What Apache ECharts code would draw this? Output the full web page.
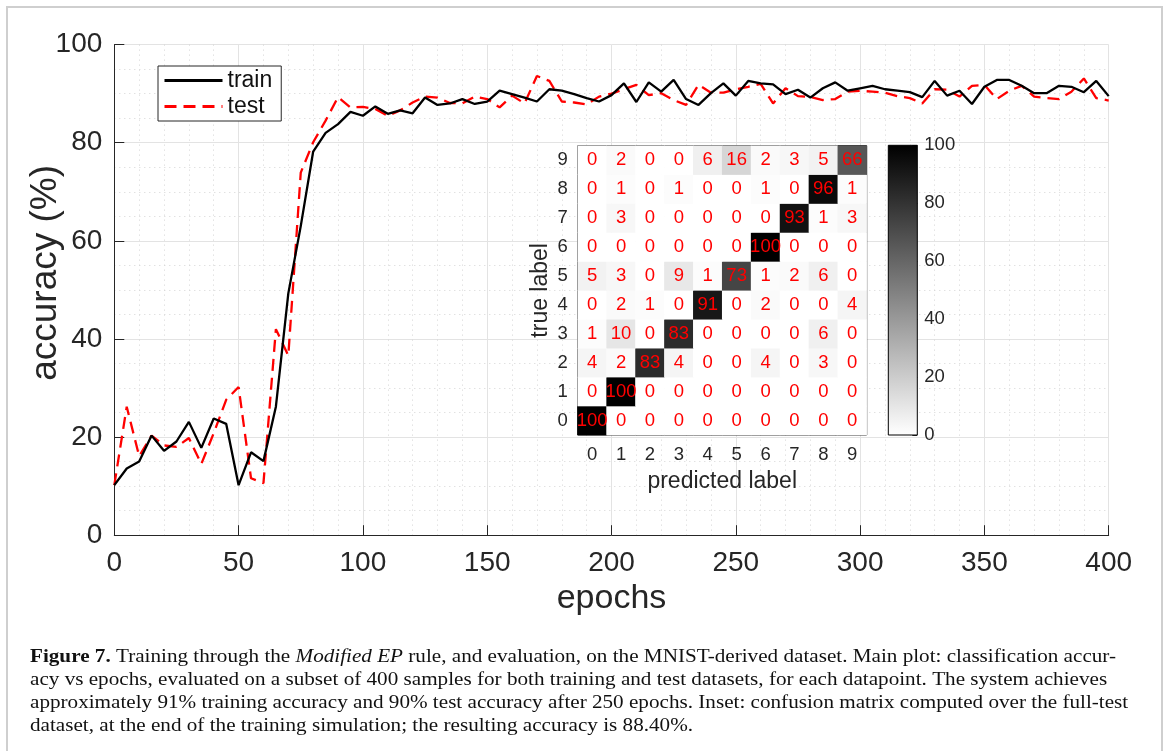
<!DOCTYPE html>
<html>
<head>
<meta charset="utf-8">
<script src="https://cdn.jsdelivr.net/npm/echarts@6/dist/echarts.min.js"></script>
<style>
  html, body { margin: 0; padding: 0; background: #ffffff; }
  #chart { position: absolute; left: 0; top: 0; width: 1170px; height: 751px; }
  #frame { position: absolute; left: 6px; top: 6px; width: 1153px; height: 760px;
           border: 2px solid #cfcfcf; border-bottom: none; pointer-events: none; }
</style>
</head>
<body>
<div id="chart"></div>
<div id="frame"></div>
<script>
// ---------------- data ----------------
const epochs = [0,5,10,15,20,25,30,35,40,45,50,55,60,65,70,75,80,85,90,95,
  100,105,110,115,120,125,130,135,140,145,150,155,160,165,170,175,180,185,190,195,
  200,205,210,215,220,225,230,235,240,245,250,255,260,265,270,275,280,285,290,295,
  300,305,310,315,320,325,330,335,340,345,350,355,360,365,370,375,380,385,390,395,400];

const trainAcc = [10.2,13.6,15.0,20.3,17.2,19.1,23.1,17.8,23.8,22.7,10.2,16.9,15.1,26.2,49.3,63.0,78.2,82.0,83.8,86.3,
  85.5,87.4,85.9,86.6,86.0,89.2,87.7,88.0,88.9,87.9,88.4,90.6,89.9,89.2,88.4,90.9,90.6,89.9,89.1,88.4,
  89.7,92.1,88.3,92.3,90.4,92.8,88.9,87.7,90.1,92.1,89.6,92.6,92.1,91.9,89.9,90.8,89.2,91.1,92.3,90.6,
  91.1,91.6,90.9,90.6,90.3,89.3,92.6,89.6,90.6,87.9,91.4,92.8,92.8,91.6,90.1,90.1,91.6,91.4,90.3,92.6,89.5];

const testAcc = [10.2,26.2,16.1,20.3,18.3,18.0,19.8,14.5,20.8,27.6,30.2,11.6,10.6,42.0,36.6,73.9,80.1,84.5,89.3,87.2,
  87.3,86.9,85.5,86.6,88.2,89.4,89.2,88.1,88.0,89.4,88.9,87.2,89.6,88.0,93.6,92.6,88.4,88.2,87.8,89.4,
  90.0,90.9,91.8,89.7,90.1,88.7,87.7,91.8,90.2,90.2,90.9,91.4,92.0,88.0,91.1,89.5,89.3,88.7,88.9,90.4,
  90.6,90.4,90.2,89.5,89.1,88.0,90.9,90.8,89.4,91.6,91.8,88.9,90.6,91.6,89.4,89.1,88.9,90.4,93.1,89.1,88.6];

// confusion matrix: index = true label, entries = predicted label 0..9
const digitLabels = ['0','1','2','3','4','5','6','7','8','9'];
const confusionRows = [
  [100,0,0,0,0,0,0,0,0,0],
  [0,100,0,0,0,0,0,0,0,0],
  [4,2,83,4,0,0,4,0,3,0],
  [1,10,0,83,0,0,0,0,6,0],
  [0,2,1,0,91,0,2,0,0,4],
  [5,3,0,9,1,73,1,2,6,0],
  [0,0,0,0,0,0,100,0,0,0],
  [0,3,0,0,0,0,0,93,1,3],
  [0,1,0,1,0,0,1,0,96,1],
  [0,2,0,0,6,16,2,3,5,66]
];
const colorbarRange = [0, 100];

const seriesNames = ['train', 'test'];
const xLabel = 'epochs';
const yLabel = 'accuracy (%)';
const cmXLabel = 'predicted label';
const cmYLabel = 'true label';

// ---------------- build ----------------
const trainData = epochs.map((e, i) => [e, trainAcc[i]]);
const testData = epochs.map((e, i) => [e, testAcc[i]]);
const heatData = [];
confusionRows.forEach((row, t) => row.forEach((v, p) => heatData.push([p, t, v])));

const FONT = 'Liberation Sans';
const TXT = '#262626';

const chart = echarts.init(document.getElementById('chart'), null, {renderer: 'canvas', width: 1170, height: 751});

const option = {
  animation: false,
  backgroundColor: 'transparent',
  textStyle: { fontFamily: FONT },
  grid: [
    { left: 114.3, top: 44.6, width: 994.4, height: 490.6, containLabel: false },
    { left: 577.7, top: 145.7, width: 289, height: 289.3, show: true, borderColor: '#000', borderWidth: 1, backgroundColor: 'transparent', z: 3 },
    { left: 888.3, top: 145.3, width: 29, height: 289.7, show: true, borderColor: '#000', borderWidth: 1, backgroundColor: 'transparent', z: 3 }
  ],
  xAxis: [
    {
      gridIndex: 0, type: 'value', min: 0, max: 400, interval: 50,
      name: xLabel, nameLocation: 'middle', nameGap: 44,
      nameTextStyle: { fontSize: 34, color: TXT, fontFamily: FONT },
      axisLine: { show: true, lineStyle: { color: TXT, width: 1 } },
      axisTick: { show: true, inside: true, length: 10, lineStyle: { color: TXT } },
      axisLabel: { fontSize: 28, color: TXT, margin: 14, fontFamily: FONT },
      splitLine: { show: true, lineStyle: { color: '#e3e3e3', width: 1 } },
      minorTick: { show: false, splitNumber: 5 },
      minorSplitLine: { show: true, lineStyle: { color: '#d4d4d4', width: 1, type: [1, 4] } }
    },
    {
      gridIndex: 1, type: 'category', data: digitLabels,
      name: cmXLabel, nameLocation: 'middle', nameGap: 35,
      nameTextStyle: { fontSize: 23, color: TXT, fontFamily: FONT },
      axisLine: { show: false },
      axisTick: { show: false },
      axisLabel: { fontSize: 18.5, color: TXT, margin: 10, fontFamily: FONT },
      splitLine: { show: false }
    },
    {
      gridIndex: 2, type: 'category', data: ['cb'], show: false
    }
  ],
  yAxis: [
    {
      gridIndex: 0, type: 'value', min: 0, max: 100, interval: 20,
      name: yLabel, nameLocation: 'middle', nameGap: 50, nameRotate: 90,
      nameMoveOverlap: false,
      nameTextStyle: { fontSize: 37, color: TXT, fontFamily: FONT, padding: [0, 0, 0, 34] },
      axisLine: { show: true, lineStyle: { color: TXT, width: 1 } },
      axisTick: { show: true, inside: true, length: 10, lineStyle: { color: TXT } },
      axisLabel: { fontSize: 28, color: TXT, margin: 12, fontFamily: FONT },
      splitLine: { show: true, lineStyle: { color: '#e3e3e3', width: 1 } },
      minorTick: { show: false, splitNumber: 4 },
      minorSplitLine: { show: true, lineStyle: { color: '#d4d4d4', width: 1, type: [1, 4] } }
    },
    {
      gridIndex: 1, type: 'category', data: digitLabels,
      name: cmYLabel, nameLocation: 'middle', nameGap: 26, nameRotate: 90,
      nameTextStyle: { fontSize: 23, color: TXT, fontFamily: FONT },
      axisLine: { show: false },
      axisTick: { show: false },
      axisLabel: { fontSize: 18.5, color: TXT, margin: 10, fontFamily: FONT },
      splitLine: { show: false }
    },
    {
      gridIndex: 2, type: 'value', position: 'right', min: colorbarRange[0], max: colorbarRange[1], interval: 20,
      axisLine: { show: false },
      axisTick: { show: true, inside: true, length: 5, lineStyle: { color: TXT } },
      axisLabel: { fontSize: 18.5, color: TXT, margin: 7, fontFamily: FONT },
      splitLine: { show: false }
    }
  ],
  visualMap: {
    type: 'continuous', show: false, seriesIndex: 2,
    min: colorbarRange[0], max: colorbarRange[1],
    inRange: { color: ['#ffffff', '#000000'] }
  },
  legend: {
    orient: 'vertical', left: 158, top: 66,
    data: seriesNames,
    itemWidth: 58, itemHeight: 2, itemGap: 3,
    padding: [3, 9, 3, 5],
    backgroundColor: '#ffffff', borderColor: TXT, borderWidth: 1,
    itemStyle: { opacity: 0 },
    lineStyle: { width: 3 },
    textStyle: { fontSize: 23, color: '#111', fontFamily: FONT }
  },
  series: [
    {
      name: seriesNames[0], type: 'line', xAxisIndex: 0, yAxisIndex: 0,
      data: trainData, symbol: 'none', smooth: false,
      lineStyle: { color: '#000000', width: 2.3 },
      itemStyle: { color: '#000000' }, z: 3
    },
    {
      name: seriesNames[1], type: 'line', xAxisIndex: 0, yAxisIndex: 0,
      data: testData, symbol: 'none', smooth: false,
      lineStyle: { color: '#ff0000', width: 2.3, type: [12, 7] },
      itemStyle: { color: '#ff0000' }, z: 2
    },
    {
      name: 'confusion', type: 'heatmap', xAxisIndex: 1, yAxisIndex: 1,
      data: heatData,
      label: { show: true, color: '#ff0000', fontSize: 18.5, fontFamily: FONT },
      itemStyle: { borderWidth: 0 },
      emphasis: { disabled: true }, z: 4
    },
    {
      name: 'colorbar', type: 'bar', xAxisIndex: 2, yAxisIndex: 2,
      data: [colorbarRange[1]], barWidth: '100%',
      itemStyle: {
        color: new echarts.graphic.LinearGradient(0, 0, 0, 1, [
          { offset: 0, color: '#000000' }, { offset: 1, color: '#ffffff' }
        ])
      },
      emphasis: { disabled: true }
    }
  ],
  graphic: [
    {
      type: 'text', x: 30, y: 646, scaleX: 1.175, z: 10,
      style: {
        text: '{b|Figure 7.} Training through the {i|Modified EP} rule, and evaluation, on the MNIST-derived dataset. Main plot: classification accur-\n' +
              'acy vs epochs, evaluated on a subset of 400 samples for both training and test datasets, for each datapoint. The system achieves\n' +
              'approximately 91% training accuracy and 90% test accuracy after 250 epochs. Inset: confusion matrix computed over the full-test\n' +
              'dataset, at the end of the training simulation; the resulting accuracy is 88.40%.',
        font: '18px "Liberation Serif"',
        fill: '#111111',
        lineHeight: 23,
        rich: {
          b: { fontWeight: 'bold', fontFamily: 'Liberation Serif', fontSize: 18, lineHeight: 23, fill: '#111111' },
          i: { fontStyle: 'italic', fontFamily: 'Liberation Serif', fontSize: 18, lineHeight: 23, fill: '#111111' }
        }
      }
    }
  ]
};

chart.setOption(option);
</script>
</body>
</html>
